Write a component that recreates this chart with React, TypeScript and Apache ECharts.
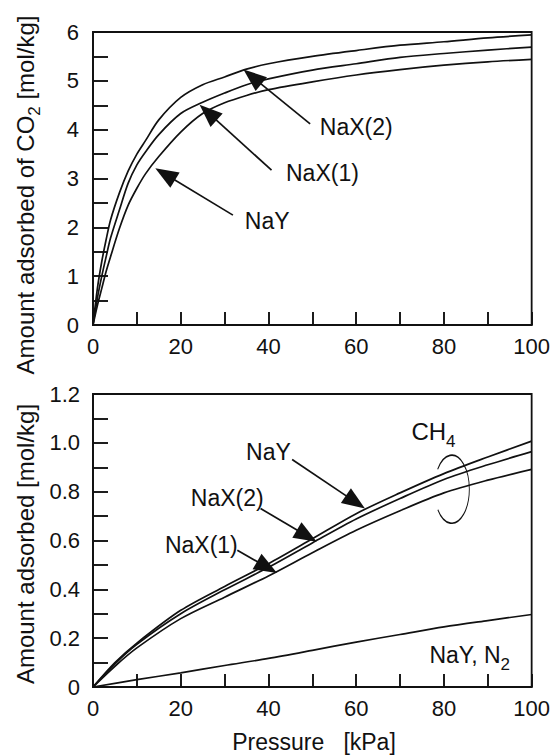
import React, { useEffect, useRef } from "react";
import * as echarts from "echarts";

// ---------- data ----------
const PRESSURE_CO2 = [0, 1, 2, 3, 4, 6, 8, 10, 12, 15, 20, 25, 30, 35, 40, 50, 60, 70, 80, 90, 100];
const CO2_NAX2 = [0, 0.75, 1.3, 1.75, 2.15, 2.7, 3.15, 3.5, 3.78, 4.2, 4.66, 4.92, 5.08, 5.24, 5.35, 5.5, 5.62, 5.73, 5.8, 5.88, 5.94];
const CO2_NAX1 = [0, 0.55, 1.0, 1.4, 1.78, 2.35, 2.9, 3.28, 3.55, 3.9, 4.33, 4.56, 4.75, 4.92, 5.04, 5.22, 5.35, 5.48, 5.56, 5.63, 5.69];
const CO2_NAY = [0, 0.4, 0.75, 1.1, 1.4, 1.97, 2.45, 2.8, 3.1, 3.45, 3.95, 4.33, 4.55, 4.7, 4.82, 4.98, 5.12, 5.23, 5.32, 5.39, 5.44];

const PRESSURE_CH4 = [0, 5, 10, 20, 30, 40, 50, 60, 70, 80, 90, 100];
const CH4_NAY = [0, 0.1, 0.18, 0.314, 0.412, 0.505, 0.607, 0.71, 0.795, 0.874, 0.942, 1.007];
const CH4_NAX2 = [0, 0.095, 0.175, 0.3, 0.398, 0.49, 0.59, 0.688, 0.772, 0.85, 0.91, 0.964];
const CH4_NAX1 = [0, 0.085, 0.16, 0.28, 0.368, 0.455, 0.55, 0.642, 0.722, 0.795, 0.847, 0.891];

const PRESSURE_N2 = [0, 10, 20, 30, 40, 50, 60, 70, 80, 90, 100];
const N2_NAY = [0, 0.03, 0.058, 0.088, 0.117, 0.15, 0.184, 0.215, 0.246, 0.272, 0.297];

// annotations (data coordinates)
const CO2_LABELS = [
  { text: "NaX(2)", at: [60.0, 4.06] },
  { text: "NaX(1)", at: [52.3, 3.11] },
  { text: "NaY", at: [39.7, 2.13] },
];
const CO2_ARROWS = [
  { from: [49.5, 4.12], to: [34.3, 5.23] },
  { from: [40.7, 3.17], to: [24.3, 4.51] },
  { from: [31.9, 2.25], to: [14.2, 3.21] },
];
const CH4_LABELS = [
  { text: "NaY", at: [40.0, 0.964] },
  { text: "NaX(2)", at: [30.6, 0.774] },
  { text: "NaX(1)", at: [24.7, 0.581] },
];
const CH4_ARROWS = [
  { from: [45.4, 0.932], to: [62.0, 0.731] },
  { from: [38.2, 0.731], to: [51.0, 0.595] },
  { from: [32.9, 0.56], to: [41.95, 0.467] },
];
const CH4_TAG_AT = [72.6, 1.046];
const CH4_RING_AT = [81.8, 0.81];
const N2_TAG_AT = [76.7, 0.13];

const FONT = "Liberation Sans";
const INK = "#111";

const zip = (xs: number[], ys: number[]) => xs.map((x, i) => [x, ys[i]]);

export default function App() {
  const ref = useRef<HTMLDivElement>(null);

  useEffect(() => {
    document.body.style.margin = "0";
    const chart = echarts.init(ref.current!, null, { renderer: "svg" });

    const tickStyle = { color: INK, width: 1.9 };
    const xAxisCommon = {
      type: "value",
      min: 0,
      max: 100,
      interval: 20,
      z: 10,
      axisLine: { show: true, onZero: false, lineStyle: { color: INK, width: 1.8 } },
      axisTick: { show: true, inside: true, length: 13, lineStyle: tickStyle },
      minorTick: { show: true, splitNumber: 2, length: 13, lineStyle: tickStyle },
      axisLabel: { color: INK, fontSize: 22, fontFamily: FONT, margin: 10 },
      splitLine: { show: false },
      minorSplitLine: { show: false },
    };
    const yAxisCommon = {
      type: "value",
      z: 10,
      axisLine: { show: true, onZero: false, lineStyle: { color: INK, width: 1.8 } },
      axisTick: { show: true, inside: true, length: 15, lineStyle: tickStyle },
      minorTick: { show: true, splitNumber: 2, length: 15, lineStyle: tickStyle },
      splitLine: { show: false },
      minorSplitLine: { show: false },
    };

    const line = (xs: number[], ys: number[], idx: number) => ({
      type: "line",
      data: zip(xs, ys),
      xAxisIndex: idx,
      yAxisIndex: idx,
      showSymbol: false,
      symbol: "none",
      smooth: 0.3,
      lineStyle: { color: INK, width: 1.7 },
      silent: true,
    });

    chart.setOption({
      animation: false,
      backgroundColor: "#fff",
      grid: [
        { left: 93, top: 32, width: 441, height: 293, show: true, backgroundColor: "transparent", borderColor: INK, borderWidth: 1.8 },
        { left: 93, top: 394, width: 441, height: 293, show: true, backgroundColor: "transparent", borderColor: INK, borderWidth: 1.8 },
      ],
      xAxis: [
        { ...xAxisCommon, gridIndex: 0 },
        { ...xAxisCommon, gridIndex: 1 },
      ],
      yAxis: [
        {
          ...yAxisCommon,
          gridIndex: 0,
          min: 0,
          max: 6,
          interval: 1,
          axisLabel: { color: INK, fontSize: 22, fontFamily: FONT, margin: 14 },
        },
        {
          ...yAxisCommon,
          gridIndex: 1,
          min: 0,
          max: 1.2,
          interval: 0.2,
          axisLabel: {
            color: INK,
            fontSize: 22,
            fontFamily: FONT,
            margin: 13,
            formatter: (v: number) => (v === 0 ? "0" : v.toFixed(1)),
          },
        },
      ],
      series: [
        line(PRESSURE_CO2, CO2_NAX2, 0),
        line(PRESSURE_CO2, CO2_NAX1, 0),
        line(PRESSURE_CO2, CO2_NAY, 0),
        line(PRESSURE_CH4, CH4_NAY, 1),
        line(PRESSURE_CH4, CH4_NAX2, 1),
        line(PRESSURE_CH4, CH4_NAX1, 1),
        line(PRESSURE_N2, N2_NAY, 1),
      ],
    });

    const px = (g: number, p: number[]) => chart.convertToPixel({ gridIndex: g }, p) as number[];

    const arrow = (p0: number[], p1: number[]) => {
      const dx = p1[0] - p0[0];
      const dy = p1[1] - p0[1];
      const len = Math.hypot(dx, dy);
      const ux = dx / len, uy = dy / len;
      const nx = -uy, ny = ux;
      const L = 23, W = 18;
      const bx = p1[0] - ux * L, by = p1[1] - uy * L;
      return [
        {
          type: "line",
          shape: { x1: p0[0], y1: p0[1], x2: bx + ux * 4, y2: by + uy * 4 },
          style: { stroke: INK, lineWidth: 1.7 },
        },
        {
          type: "polygon",
          shape: {
            points: [
              [p1[0], p1[1]],
              [bx + (nx * W) / 2, by + (ny * W) / 2],
              [bx - (nx * W) / 2, by - (ny * W) / 2],
            ],
          },
          style: { fill: INK },
        },
      ];
    };

    const label = (p: number[], text: string, align = "center", rich?: any) => ({
      type: "text",
      x: p[0],
      y: p[1],
      style: {
        text,
        fill: INK,
        fontSize: 23,
        fontFamily: FONT,
        align,
        verticalAlign: "middle",
        textAlign: align,
        textVerticalAlign: "middle",
        rich,
      },
    });

    const subRich = (main: number, sub: number) => ({
      a: { fontSize: main, fontFamily: FONT, fill: INK, color: INK, lineHeight: 36, verticalAlign: "middle" },
      b: { fontSize: sub, fontFamily: FONT, fill: INK, color: INK, lineHeight: 36, verticalAlign: "bottom" },
    });

    const elements: any[] = [];
    CO2_ARROWS.forEach((a) => elements.push(...arrow(px(0, a.from), px(0, a.to))));
    CO2_LABELS.forEach((l) => elements.push(label(px(0, l.at), l.text)));
    CH4_ARROWS.forEach((a) => elements.push(...arrow(px(1, a.from), px(1, a.to))));
    CH4_LABELS.forEach((l) => elements.push(label(px(1, l.at), l.text)));
    elements.push(label(px(1, CH4_TAG_AT), "{a|CH}{b|4}", "left", subRich(24, 17)));
    elements.push(label(px(1, N2_TAG_AT), "{a|NaY, N}{b|2}", "left", subRich(23, 17)));

    const ring = px(1, CH4_RING_AT);
    elements.push({
      type: "arc",
      x: ring[0],
      y: ring[1],
      scaleX: 17.5 / 34,
      scaleY: 1,
      shape: { cx: 0, cy: 0, r: 34, startAngle: (216 * Math.PI) / 180, endAngle: (143 * Math.PI) / 180, clockwise: true },
      style: { stroke: INK, lineWidth: 1.7, fill: "none", strokeNoScale: true },
    });

    // axis titles
    elements.push({
      type: "text",
      x: 25,
      y: 195,
      rotation: Math.PI / 2,
      style: {
        text: "{a|Amount adsorbed of CO}{b|2}{a| [mol/kg]}",
        rich: subRich(24, 17),
        fill: INK,
        align: "center",
        verticalAlign: "middle",
        textAlign: "center",
        textVerticalAlign: "middle",
      },
    });
    elements.push({
      type: "text",
      x: 25,
      y: 544,
      rotation: Math.PI / 2,
      style: {
        text: "Amount adsorbed [mol/kg]",
        fill: INK,
        fontSize: 24,
        fontFamily: FONT,
        align: "center",
        verticalAlign: "middle",
        textAlign: "center",
        textVerticalAlign: "middle",
      },
    });
    elements.push({
      type: "text",
      x: 314,
      y: 742,
      style: {
        text: "Pressure   [kPa]",
        fill: INK,
        fontSize: 23,
        fontFamily: FONT,
        align: "center",
        verticalAlign: "middle",
        textAlign: "center",
        textVerticalAlign: "middle",
      },
    });

    chart.setOption({ graphic: { elements } });

    return () => chart.dispose();
  }, []);

  return <div ref={ref} style={{ width: 553, height: 756 }} />;
}
